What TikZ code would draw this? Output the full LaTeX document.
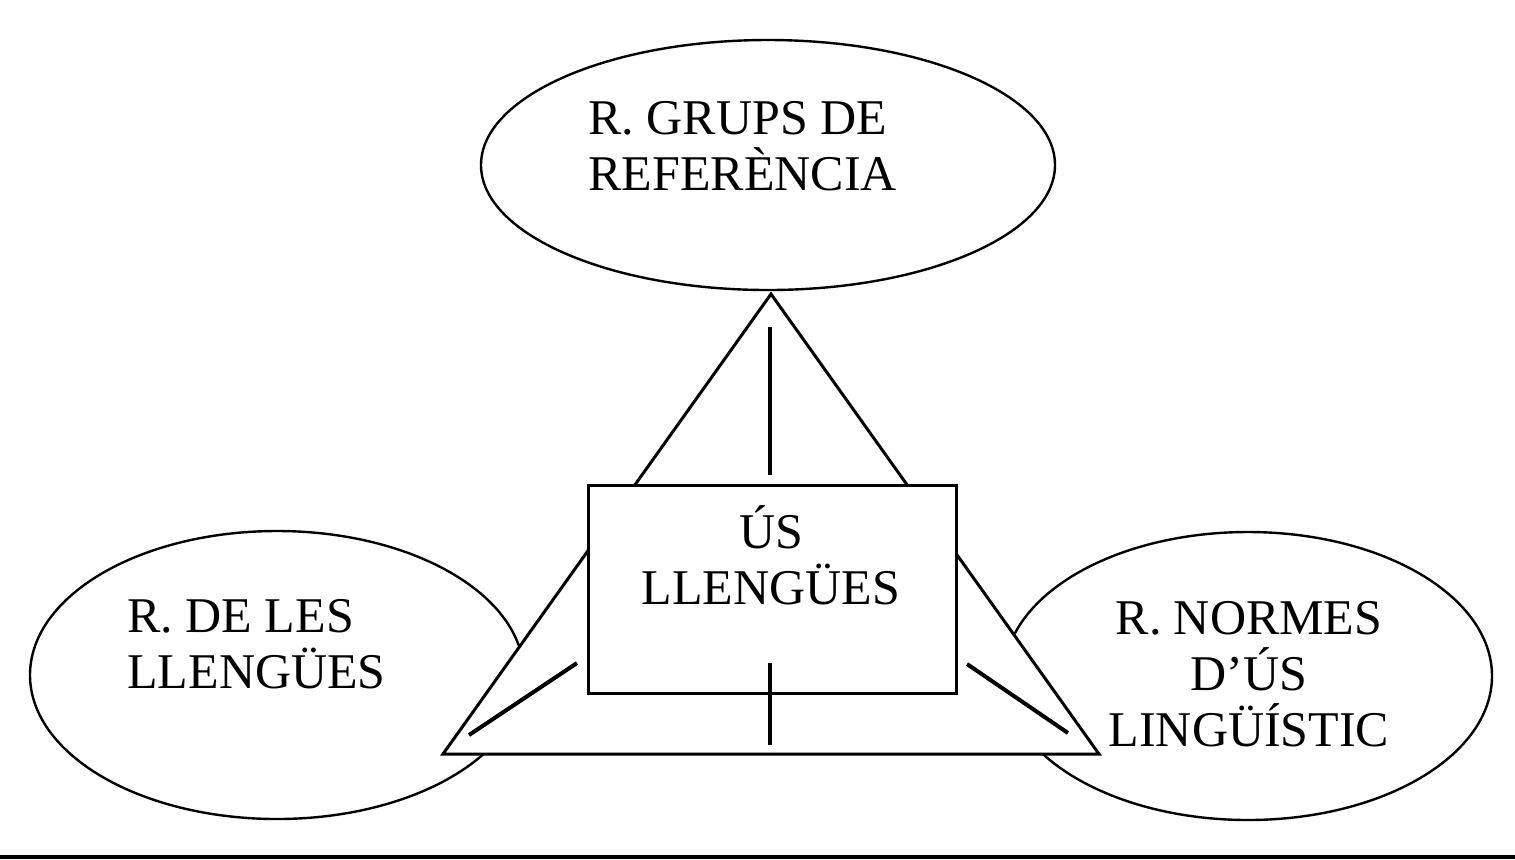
\documentclass[tikz,border=0pt]{standalone}
\usepackage{fontspec}
\setmainfont{Liberation Serif}
\usepackage{tikz}
\usetikzlibrary{shapes.geometric}

\begin{document}
\begin{tikzpicture}[x=0.5pt, y=-0.5pt,
        relnode/.style={ellipse, draw=black, fill=white, line width=1.2pt, inner sep=0pt},
        usnode/.style={rectangle, draw=black, fill=white, line width=1.5pt, inner sep=0pt, minimum width=184pt, minimum height=104pt},
        labelnode/.style={inner sep=0pt, font=\fontsize{25}{28}\selectfont},
        linknode/.style={line width=2pt},
    ]
    \useasboundingbox (0,0) rectangle (1515,859);
    %Nodes
    \node[relnode, minimum width=287pt, minimum height=125pt] (grupsnode) at (768,165) {};
    \node[relnode, minimum width=247pt, minimum height=144pt] (llenguesnode) at (277,675) {};
    \node[relnode, minimum width=244pt, minimum height=144pt] (normesnode) at (1248,676) {};
    %Triangle
    \coordinate (apex) at (771,294);
    \coordinate (baseleft) at (443,754);
    \coordinate (baseright) at (1099,754);
    \filldraw[fill=white, line width=1.5pt, line join=miter] (apex) -- (baseleft) -- (baseright) -- cycle;
    \node[usnode] (usnode) at (772,589.5) {};
    %Texts
    \node[labelnode, align=left, anchor=base west] (grupstext) at (588,190) {R. GRUPS DE\\REFERÈNCIA};
    \node[labelnode, align=left, anchor=base west] (llenguestext) at (127,688) {R. DE LES\\LLENGÜES};
    \node[labelnode, align=center, anchor=base] (normestext) at (1249,746) {R. NORMES\\D’ÚS\\LINGÜÍSTIC};
    \node[labelnode, align=center, anchor=base] (ustext) at (771,604) {ÚS\\LLENGÜES};
    %Lines
    \coordinate (topa) at (770,327);
    \coordinate (topb) at (770,475);
    \coordinate (bota) at (770,663);
    \coordinate (botb) at (770,745);
    \coordinate (lefta) at (577,663);
    \coordinate (leftb) at (469,735);
    \coordinate (righta) at (967,664);
    \coordinate (rightb) at (1068,733);
    \draw[linknode] (topa) -- (topb);
    \draw[linknode] (bota) -- (botb);
    \draw[linknode] (lefta) -- (leftb);
    \draw[linknode] (righta) -- (rightb);
    \coordinate (rulea) at (0,857);
    \coordinate (ruleb) at (1515,857);
    \draw[line width=2pt] (rulea) -- (ruleb);
\end{tikzpicture}
\end{document}
